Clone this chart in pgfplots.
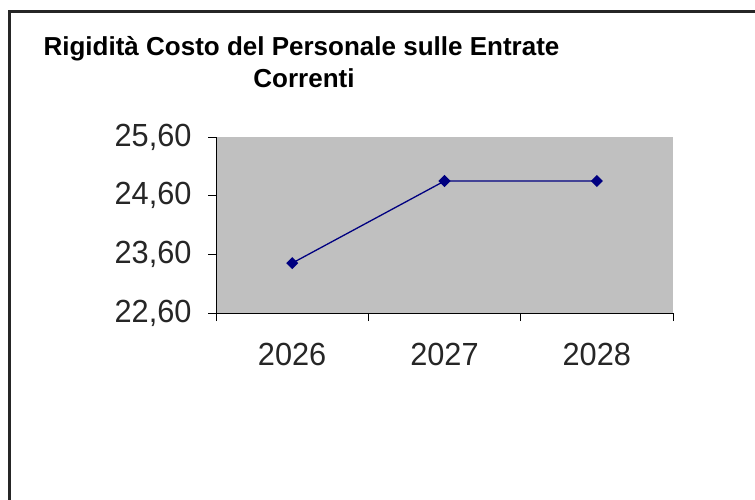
\documentclass[border=0pt]{standalone}
\usepackage{fontspec}
\setmainfont{Liberation Sans}
\newfontfamily\tickfont{Liberation Sans}[FakeStretch=0.96]
\usepackage{pgfplots}
\pgfplotsset{compat=1.18}
\definecolor{plotgray}{HTML}{C0C0C0}
\definecolor{navyline}{HTML}{000080}
\begin{document}
\begin{tikzpicture}[x=1pt,y=1pt]
\useasboundingbox (0,0) rectangle (755,499);
\fill[white] (0,0) rectangle (755,499);
\draw[line width=2.5pt, black!85] (9.5,-5) -- (9.5,487.7) -- (760,487.7);
\node[anchor=base, inner sep=0pt, font=\fontsize{26}{30}\selectfont\bfseries] at (301.5,443) {Rigidità Costo del Personale sulle Entrate};
\node[anchor=base, inner sep=0pt, font=\fontsize{26}{30}\selectfont\bfseries] at (304,411) {Correnti};
\begin{axis}[
  at={(216pt,186pt)}, anchor=south west,
  scale only axis, width=457pt, height=176pt,
  xmin=0.5, xmax=3.5, ymin=22.6, ymax=25.6,
  axis background/.style={fill=plotgray},
  axis x line*=bottom, axis y line*=left,
  axis line style={black, line width=1pt, -},
  xtick={0.5,1.5,2.5,3.5}, x tick label as interval, xticklabels={2026,2027,2028},
  ytick={22.6,23.6,24.6,25.6}, yticklabels={{22,60},{23,60},{24,60},{25,60}},
  tick align=outside, major tick length=8pt,
  tick style={black, line width=1pt},
  ticklabel style={font=\tickfont\fontsize{32}{32}\selectfont, text=black!85},
  xticklabel style={yshift=-19pt},
  yticklabel style={xshift=-13pt},
  /pgf/number format/assume math mode=true,
  clip=false,
]
\addplot[navyline, line width=1.3pt, mark=square*, mark size=3.6pt, mark options={rotate=45, fill=navyline, solid}] coordinates {(1,23.45) (2,24.85) (3,24.85)};
\end{axis}
\end{tikzpicture}
\end{document}
